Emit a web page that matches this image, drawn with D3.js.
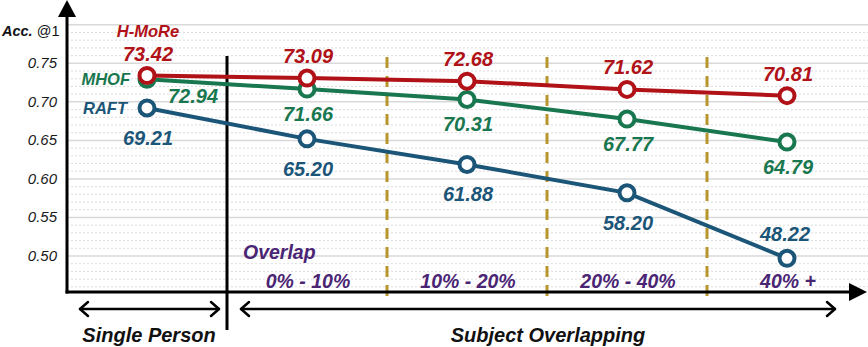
<!DOCTYPE html>
<html>
<head>
<meta charset="utf-8">
<script src="https://cdn.jsdelivr.net/npm/d3@7"></script>
<style>
  html, body { margin: 0; padding: 0; background: #fff; }
  svg { display: block; font-family: "Liberation Sans", Arial, sans-serif; }
</style>
</head>
<body>
<div id="chart"></div>
<script>
// ---- data ----
const categories = ['Single', '0% - 10%', '10% - 20%', '20% - 40%', '40% +']
const hmore = [73.42, 73.09, 72.68, 71.62, 70.81]
const mhof = [72.94, 71.66, 70.31, 67.77, 64.79]
const raft = [69.21, 65.20, 61.88, 58.20, 48.22]
// the last RAFT point sits near the floor of the axis in the original (drawn at ~49.7)
const raftDrawn = [69.21, 65.20, 61.88, 58.20, 49.7]
const majorTicks = [0.50, 0.55, 0.60, 0.65, 0.70, 0.75]

const W = 868, H = 347
const axisX = 67, axisY = 292

const svg = d3.select('#chart').append('svg')
  .attr('width', W).attr('height', H)

const x = d3.scalePoint().domain(categories).range([147, 787])
const y = d3.scaleLinear().domain([0.4533, 0.80]).range([axisY, 24.8])

// ---- gridlines ----
const minor = d3.range(46, 80).map(d => d / 100).filter(d => Math.round(d * 100) % 5 !== 0)
svg.append('g').selectAll('line').data(minor).join('line')
  .attr('x1', axisX).attr('x2', W)
  .attr('y1', d => y(d)).attr('y2', d => y(d))
  .attr('stroke', '#dcdcdc').attr('stroke-width', 1)
  .attr('stroke-dasharray', '2,2')

svg.append('g').selectAll('line').data(majorTicks.concat([0.80])).join('line')
  .attr('x1', axisX).attr('x2', W)
  .attr('y1', d => y(d)).attr('y2', d => y(d))
  .attr('stroke', '#d9d9d9').attr('stroke-width', 1.5)

// ---- y tick labels ----
svg.append('g').selectAll('text').data(majorTicks).join('text')
  .attr('x', 57).attr('y', d => y(d) + 5)
  .attr('text-anchor', 'end')
  .attr('font-size', '15px').attr('font-style', 'italic')
  .attr('fill', '#1a1a1a')
  .text(d => d.toFixed(2))

const acc = svg.append('text').attr('x', 2).attr('y', 36)
  .attr('font-size', '14.5px').attr('fill', '#111')
acc.append('tspan').attr('font-weight', 'bold').attr('font-style', 'italic').text('Acc.')
acc.append('tspan').text(' @1')

// ---- separators ----
const step = x.step()
svg.append('line')
  .attr('x1', x(categories[0]) + step / 2).attr('x2', x(categories[0]) + step / 2)
  .attr('y1', 56).attr('y2', 330)
  .attr('stroke', '#000').attr('stroke-width', 3)

svg.append('g').selectAll('line').data(categories.slice(1, 4)).join('line')
  .attr('x1', d => x(d) + step / 2).attr('x2', d => x(d) + step / 2)
  .attr('y1', 57).attr('y2', 298)
  .attr('stroke', '#b8962e').attr('stroke-width', 3)
  .attr('stroke-dasharray', '11,8')

// ---- axes ----
svg.append('line').attr('x1', axisX).attr('x2', axisX).attr('y1', 14).attr('y2', axisY + 1.5)
  .attr('stroke', '#000').attr('stroke-width', 3)
svg.append('path').attr('d', `M${axisX},0 L${axisX - 9},17 L${axisX + 9},17 Z`).attr('fill', '#000')

svg.append('line').attr('x1', axisX - 1.5).attr('x2', 850).attr('y1', axisY).attr('y2', axisY)
  .attr('stroke', '#000').attr('stroke-width', 3)
svg.append('path').attr('d', `M867,${axisY} L849,${axisY - 9} L849,${axisY + 9} Z`).attr('fill', '#000')

// ---- bottom double arrows ----
function dblArrow(x1, x2, yy) {
  const g = svg.append('g').attr('fill', 'none').attr('stroke', '#000')
    .attr('stroke-width', 2.5).attr('stroke-linecap', 'round').attr('stroke-linejoin', 'round')
  g.append('line').attr('x1', x1).attr('x2', x2).attr('y1', yy).attr('y2', yy)
  g.append('path').attr('d', `M${x1 + 8},${yy - 7} L${x1},${yy} L${x1 + 8},${yy + 7}`)
  g.append('path').attr('d', `M${x2 - 8},${yy - 7} L${x2},${yy} L${x2 - 8},${yy + 7}`)
}
dblArrow(80, 219, 309)
dblArrow(241, 835, 309)

svg.append('text').attr('x', 149).attr('y', 342).attr('text-anchor', 'middle')
  .attr('font-size', '20px').attr('font-weight', 'bold').attr('font-style', 'italic')
  .attr('fill', '#111').text('Single Person')
svg.append('text').attr('x', 548).attr('y', 342).attr('text-anchor', 'middle')
  .attr('font-size', '20px').attr('font-weight', 'bold').attr('font-style', 'italic')
  .attr('fill', '#111').text('Subject Overlapping')

// ---- overlap labels ----
const purple = '#4a2574'
svg.append('text').attr('x', 243).attr('y', 259)
  .attr('font-size', '19.5px').attr('font-weight', 'bold').attr('font-style', 'italic')
  .attr('fill', purple).text('Overlap')
svg.append('g').selectAll('text').data(categories.slice(1)).join('text')
  .attr('x', d => x(d) + 1).attr('y', 288).attr('text-anchor', 'middle')
  .attr('font-size', '19.5px').attr('font-weight', 'bold').attr('font-style', 'italic')
  .attr('fill', purple).text(d => d)

// ---- series ----
const series = [
  { name: 'RAFT', vals: raft, drawn: raftDrawn, color: '#1b5578' },
  { name: 'MHOF', vals: mhof, drawn: mhof, color: '#19774f' },
  { name: 'H-MoRe', vals: hmore, drawn: hmore, color: '#b01217' }
]
const line = d3.line().x((d, i) => x(categories[i])).y(d => y(d / 100))

series.forEach(s => {
  const g = svg.append('g')
  g.append('path').datum(s.drawn).attr('d', line)
    .attr('fill', 'none').attr('stroke', s.color).attr('stroke-width', 4)
  g.selectAll('circle').data(s.drawn).join('circle')
    .attr('cx', (d, i) => x(categories[i])).attr('cy', d => y(d / 100))
    .attr('r', 7.5).attr('fill', '#fff')
    .attr('stroke', s.color).attr('stroke-width', 4)
})

// value labels
function valueLabels(s, place) {
  svg.append('g').selectAll('text').data(s.vals).join('text')
    .attr('x', (d, i) => x(categories[i]) + place(i).dx)
    .attr('y', (d, i) => y(s.drawn[i] / 100) + place(i).dy)
    .attr('text-anchor', 'middle')
    .attr('font-size', '20px').attr('font-weight', 'bold').attr('font-style', 'italic')
    .attr('fill', s.color)
    .text(d => d.toFixed(2))
}
valueLabels(series[2], () => ({ dx: 1, dy: -15 }))
valueLabels(series[1], i => i === 0 ? { dx: 46, dy: 24 } : { dx: 1, dy: 32 })
valueLabels(series[0], i => i === 4 ? { dx: -2, dy: -17 } : { dx: 1, dy: 37 })

// series names
const nameStyle = sel => sel.attr('font-size', '16.5px').attr('font-weight', 'bold').attr('font-style', 'italic')
svg.append('text').call(nameStyle)
  .attr('x', x(categories[0]) + 1).attr('y', y(hmore[0] / 100) - 39).attr('text-anchor', 'middle')
  .attr('fill', series[2].color).text('H-MoRe')
svg.append('text').call(nameStyle)
  .attr('x', x(categories[0]) - 17).attr('y', y(mhof[0] / 100) + 6).attr('text-anchor', 'end')
  .attr('fill', series[1].color).text('MHOF')
svg.append('text').call(nameStyle)
  .attr('x', x(categories[0]) - 20).attr('y', y(raft[0] / 100) + 6).attr('text-anchor', 'end')
  .attr('fill', series[0].color).text('RAFT')
</script>
</body>
</html>
